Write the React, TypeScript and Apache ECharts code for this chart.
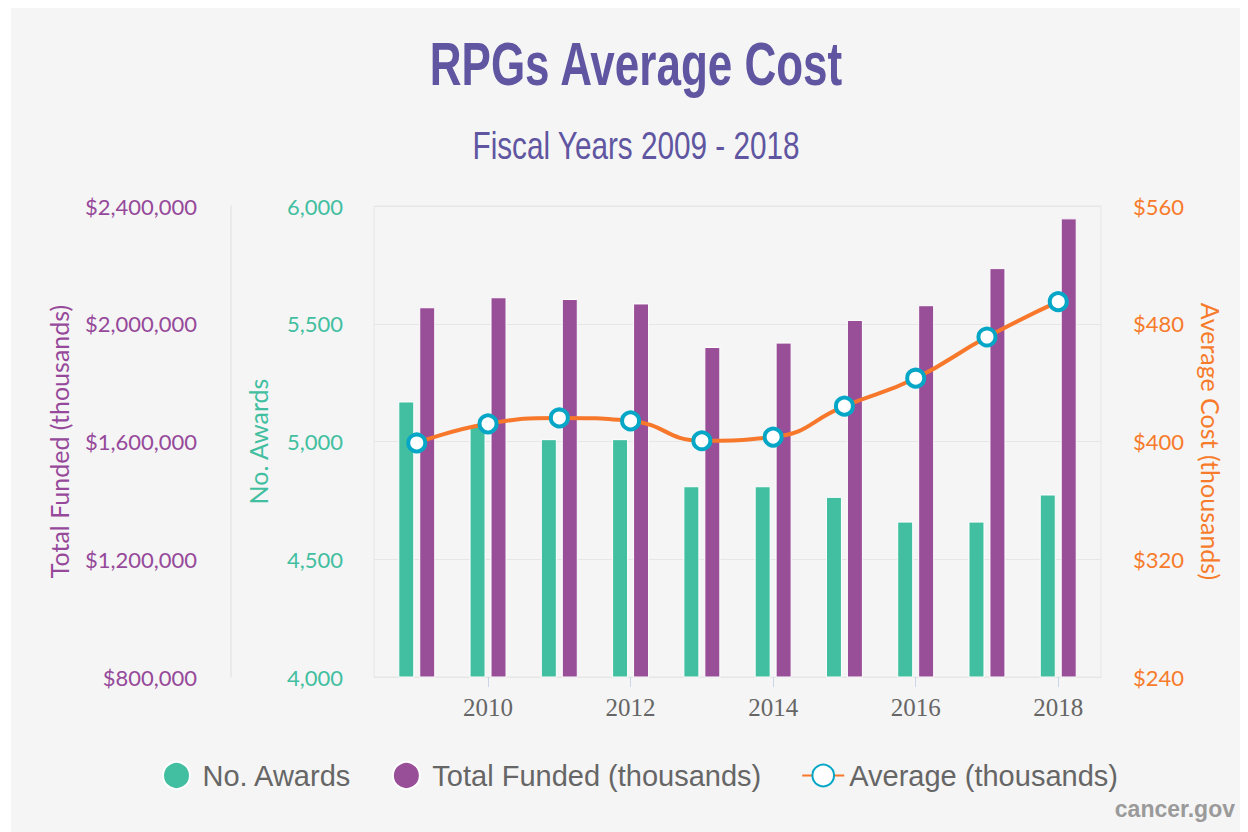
import React, { useEffect, useRef } from "react";
import * as echarts from "echarts";

const years = [2009, 2010, 2011, 2012, 2013, 2014, 2015, 2016, 2017, 2018];
const awards = [5170, 5070, 5010, 5010, 4810, 4810, 4765, 4660, 4660, 4775];
const funded = [2056000, 2090000, 2084000, 2069000, 1921000, 1936000, 2013000, 2063000, 2189000, 2358000];
const average = [399, 412, 416, 414, 400.5, 403, 424, 443, 471, 495];
const xTickYears = [2010, 2012, 2014, 2016, 2018];

const GREEN = "#42bfa0";
const PURPLE = "#984f98";
const ORANGE = "#f7772b";
const CYAN = "#06a7c6";

export default function App() {
  const ref = useRef<HTMLDivElement>(null);
  useEffect(() => {
    if (!ref.current) return;
    const chart = echarts.init(ref.current, undefined, { renderer: "svg" });
    const fmt = (v: number) => v.toLocaleString("en-US");
    chart.setOption({
      animation: false,
      backgroundColor: "#f5f5f5",
      graphic: [
        {
          type: "text",
          x: 625,
          y: 55,
          scaleX: 0.71,
          style: {
            text: "RPGs Average Cost",
            x: 0,
            y: 0,
            align: "center",
            verticalAlign: "middle",
            fontFamily: "Liberation Sans",
            fontWeight: "bold",
            fontSize: 62,
            fill: "#5f55a1",
          },
        },
        {
          type: "text",
          x: 625,
          y: 138,
          scaleX: 0.762,
          style: {
            text: "Fiscal Years 2009 - 2018",
            x: 0,
            y: 0,
            align: "center",
            verticalAlign: "middle",
            fontFamily: "Liberation Sans",
            fontSize: 39,
            fill: "#5f55a1",
          },
        },
        {
          type: "text",
          x: 1224,
          y: 801,
          style: {
            text: "cancer.gov",
            x: 0,
            y: 0,
            align: "right",
            verticalAlign: "middle",
            fontFamily: "Liberation Sans",
            fontWeight: "bold",
            fontSize: 23,
            fill: "#9a9a9a",
          },
        },
      ],
      legend: {
        left: 146,
        top: 748,
        itemWidth: 42,
        itemHeight: 27,
        itemGap: 40,
        textStyle: { fontFamily: "Liberation Sans", fontSize: 29, color: "#666666" },
        data: [
          { name: "No. Awards", icon: "circle" },
          { name: "Total Funded (thousands)", icon: "circle" },
          { name: "Average (thousands)" },
        ],
      },
      grid: {
        left: 363,
        right: 147,
        top: 198,
        bottom: 155,
        show: true,
        borderColor: "#e6e6e6",
        borderWidth: 1,
        backgroundColor: "transparent",
      },
      xAxis: {
        type: "value",
        min: 2008.4,
        max: 2018.6,
        axisLine: { show: true, lineStyle: { color: "#e6e6e6", width: 1 } },
        axisTick: {
          show: true,
          length: 10,
          customValues: xTickYears,
          lineStyle: { color: "#ccd6eb", width: 1 },
        },
        axisLabel: {
          customValues: xTickYears,
          formatter: (v: number) => String(v),
          margin: 18,
          fontFamily: "Liberation Serif",
          fontSize: 25,
          color: "#666666",
        },
        splitLine: { show: false },
      },
      yAxis: [
        {
          type: "value",
          position: "left",
          min: 4000,
          max: 6000,
          interval: 500,
          name: "No. Awards",
          nameLocation: "middle",
          nameRotate: 90,
          nameGap: 104,
          nameTextStyle: { fontFamily: "Lato", fontSize: 25, color: GREEN },
          axisLine: { show: false },
          axisTick: { show: false },
          axisLabel: { margin: 31, fontFamily: "Lato", fontSize: 22, color: GREEN, formatter: fmt },
          splitLine: { show: true, lineStyle: { color: "#e6e6e6", width: 1 } },
        },
        {
          type: "value",
          position: "left",
          offset: 143,
          min: 800000,
          max: 2400000,
          interval: 400000,
          name: "Total Funded (thousands)",
          nameLocation: "middle",
          nameRotate: 90,
          nameGap: 160,
          nameTextStyle: { fontFamily: "Lato", fontSize: 25, color: "#96499a" },
          axisLine: { show: true, lineStyle: { color: "#e6e6e6", width: 1.5 } },
          axisTick: { show: false },
          axisLabel: {
            margin: 34,
            fontFamily: "Lato",
            fontSize: 22,
            color: "#96499a",
            formatter: (v: number) => "$" + fmt(v),
          },
          splitLine: { show: false },
        },
        {
          type: "value",
          position: "right",
          min: 240,
          max: 560,
          interval: 80,
          name: "Average Cost (thousands)",
          nameLocation: "middle",
          nameRotate: -90,
          nameGap: 97,
          nameTextStyle: { fontFamily: "Lato", fontSize: 25, color: "#f77b2b" },
          axisLine: { show: false },
          axisTick: { show: false },
          axisLabel: {
            margin: 32,
            fontFamily: "Lato",
            fontSize: 22,
            color: "#f77b2b",
            formatter: (v: number) => "$" + v,
          },
          splitLine: { show: false },
        },
      ],
      series: [
        {
          name: "No. Awards",
          type: "bar",
          yAxisIndex: 0,
          barWidth: 16,
          barGap: "31%",
          itemStyle: { color: GREEN, borderColor: "#ffffff", borderWidth: 1 },
          data: years.map((y, i) => [y, awards[i]]),
        },
        {
          name: "Total Funded (thousands)",
          type: "bar",
          yAxisIndex: 1,
          barWidth: 16,
          barGap: "31%",
          itemStyle: { color: PURPLE, borderColor: "#ffffff", borderWidth: 1 },
          data: years.map((y, i) => [y, funded[i]]),
        },
        {
          name: "Average (thousands)",
          type: "line",
          yAxisIndex: 2,
          smooth: true,
          symbol: "circle",
          symbolSize: 17,
          lineStyle: { color: ORANGE, width: 4 },
          itemStyle: { color: "#ffffff", borderColor: CYAN, borderWidth: 4 },
          z: 5,
          data: years.map((y, i) => [y, average[i]]),
        },
      ],
    });
    return () => chart.dispose();
  }, []);
  return (
    <div
      ref={ref}
      style={{ marginLeft: 3, width: 1237, height: 824, background: "#f5f5f5" }}
    />
  );
}
